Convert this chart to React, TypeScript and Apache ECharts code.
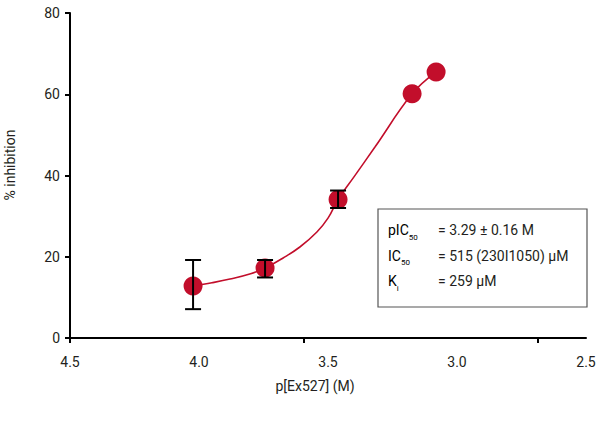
import React, { useEffect, useRef } from 'react'
import * as echarts from 'echarts'

// measured points (p[Ex527], % inhibition) and their error bars
const pX = [4.023, 3.744, 3.461, 3.174, 3.081]
const pY = [12.8, 17.2, 34.1, 60.1, 65.5]
const errLo = [7.1, 14.9, 32.0, null, null]
const errHi = [19.2, 19.2, 36.3, null, null]

// fitted curve
const fitX = [4.023, 3.95, 3.88, 3.80, 3.744, 3.674, 3.609, 3.543, 3.50, 3.461, 3.40, 3.318, 3.174, 3.081]
const fitY = [12.8, 13.6, 14.5, 15.8, 17.2, 19.7, 22.4, 26.1, 29.5, 34.1, 39.6, 47.0, 60.1, 65.5]

// odd tick marks on the x axis of the original figure
const xTickMarks = [4.5, 3.593, 2.686]

const RED = '#c20e2b'
const INK = '#231f20'
const FONT = 'Roboto'

export default function App() {
  const ref = useRef<HTMLDivElement | null>(null)

  useEffect(() => {
    if (!ref.current) return
    const chart = echarts.init(ref.current, null, { renderer: 'svg' })

    const sub = { fontSize: 8, fontFamily: FONT, color: INK, verticalAlign: 'bottom' as const, lineHeight: 22 }
    const main = { fontSize: 14, fontFamily: FONT, color: INK, verticalAlign: 'middle' as const, lineHeight: 22 }

    const opt: echarts.EChartsOption = {
      animation: false,
      backgroundColor: '#fff',
      grid: { left: 70, right: 14, top: 13, bottom: 91 },
      xAxis: {
        type: 'value',
        inverse: true,
        min: 2.5, max: 4.5, interval: 0.5,
        splitLine: { show: false },
        axisLine: { lineStyle: { color: '#000', width: 2 } },
        axisTick: { show: true, length: 5, lineStyle: { color: '#000', width: 2 }, customValues: xTickMarks } as any,
        axisLabel: { margin: 17, fontSize: 14, fontFamily: FONT, color: INK, formatter: (v: number) => v.toFixed(1) }
      },
      yAxis: {
        type: 'value',
        min: 0, max: 80, interval: 20,
        splitLine: { show: false },
        axisLine: { show: true, lineStyle: { color: '#000', width: 2 } },
        axisTick: { show: true, length: 5, lineStyle: { color: '#000', width: 2 } },
        axisLabel: { margin: 10, fontSize: 14, fontFamily: FONT, color: INK }
      },
      series: [
        {
          type: 'line',
          data: fitX.map((x, i) => [x, fitY[i]]),
          smooth: 0.4,
          showSymbol: false,
          lineStyle: { color: RED, width: 1.6 },
          z: 2
        },
        {
          type: 'scatter',
          data: pX.map((x, i) => [x, pY[i]]),
          symbolSize: 19,
          itemStyle: { color: RED, opacity: 1 },
          z: 3
        },
        {
          type: 'custom',
          data: pX.map((x, i) => [x, errLo[i], errHi[i]]).filter(d => d[1] != null),
          z: 4,
          renderItem: (params: any, api: any) => {
            const x = api.value(0)
            const a = api.coord([x, api.value(1)])
            const b = api.coord([x, api.value(2)])
            const w = 8
            const st = { stroke: '#000', lineWidth: 2 }
            return {
              type: 'group',
              children: [
                { type: 'line', shape: { x1: a[0], y1: a[1], x2: b[0], y2: b[1] }, style: st },
                { type: 'line', shape: { x1: a[0] - w, y1: a[1], x2: a[0] + w, y2: a[1] }, style: st },
                { type: 'line', shape: { x1: b[0] - w, y1: b[1], x2: b[0] + w, y2: b[1] }, style: st }
              ]
            }
          }
        }
      ],
      graphic: [
        {
          type: 'text', x: 10, y: 165, rotation: Math.PI / 2,
          style: { text: '% inhibition', fontSize: 14, fontFamily: FONT, fill: INK, align: 'center', verticalAlign: 'middle' }
        },
        {
          type: 'text', x: 315, y: 386,
          style: { text: 'p[Ex527] (M)', fontSize: 14, fontFamily: FONT, fill: INK, align: 'center', verticalAlign: 'middle' }
        },
        {
          type: 'rect', shape: { x: 378, y: 209, width: 209, height: 98 },
          style: { fill: '#fff', stroke: '#555', lineWidth: 1.2 }, z: 10
        },
        {
          type: 'text', x: 388, y: 230, z: 11,
          style: { text: '{m|pIC}{s|50}', rich: { m: main, s: sub }, verticalAlign: 'middle' }
        },
        {
          type: 'text', x: 388, y: 255.5, z: 11,
          style: { text: '{m|IC}{s|50}', rich: { m: main, s: sub }, verticalAlign: 'middle' }
        },
        {
          type: 'text', x: 388, y: 281, z: 11,
          style: { text: '{m|K}{s|i}', rich: { m: main, s: sub }, verticalAlign: 'middle' }
        },
        {
          type: 'text', x: 438, y: 230, z: 11,
          style: { text: '= 3.29 ± 0.16 M', fontSize: 14, fontFamily: FONT, fill: INK, verticalAlign: 'middle' }
        },
        {
          type: 'text', x: 438, y: 255.5, z: 11,
          style: { text: '= 515 (230I1050) µM', fontSize: 14, fontFamily: FONT, fill: INK, verticalAlign: 'middle' }
        },
        {
          type: 'text', x: 438, y: 281, z: 11,
          style: { text: '= 259 µM', fontSize: 14, fontFamily: FONT, fill: INK, verticalAlign: 'middle' }
        }
      ]
    }

    chart.setOption(opt)
    return () => { chart.dispose() }
  }, [])

  return (
    <div
      ref={ref}
      style={{ position: 'fixed', left: 0, top: 0, width: 600, height: 429, background: '#fff' }}
    />
  )
}
